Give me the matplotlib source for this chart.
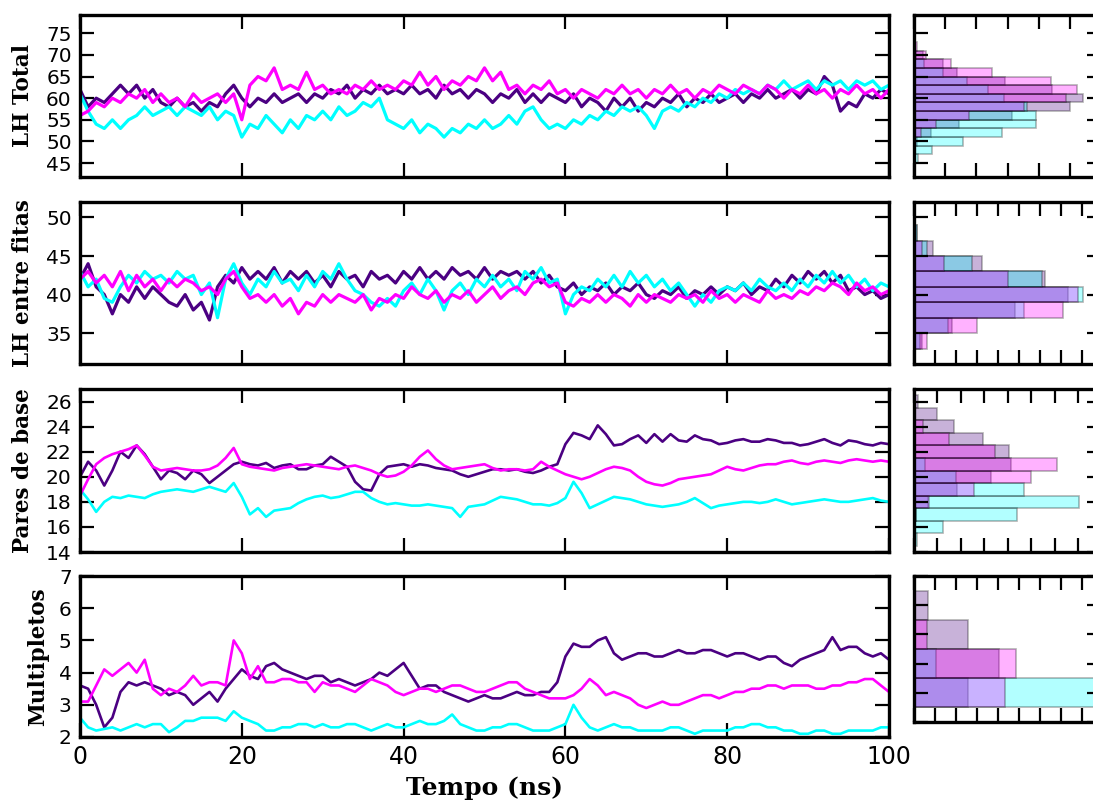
import numpy as np
import matplotlib
matplotlib.use("Agg")
import matplotlib.pyplot as plt

# ---------------- data ----------------
tempo = list(range(0, 101))  # ns

lh_total_indigo = [62,58,60,59,61,63,61,63,60,62,59,58,60,58,59,57,59,58,61,63,
                   60,58,60,59,61,59,60,61,59,61,60,62,61,63,60,62,61,63,61,62,
                   61,63,61,62,60,63,61,62,60,62,61,59,61,60,62,59,61,59,61,60,
                   59,61,58,60,59,57,60,58,60,57,59,58,60,59,61,58,60,59,61,59,
                   60,61,59,61,60,62,60,61,62,60,62,61,65,63,57,59,58,61,60,62,61]
lh_total_cyan = [61,57,54,53,55,53,55,56,58,56,57,58,56,58,57,56,58,55,57,56,
                 51,54,53,56,54,52,55,53,56,55,57,55,58,56,57,59,58,60,55,54,
                 53,55,52,54,53,51,53,52,54,53,55,53,54,56,54,57,58,55,53,54,
                 53,55,54,56,55,57,56,58,57,58,56,53,57,58,57,59,58,60,59,61,
                 60,62,61,62,61,63,62,64,62,63,64,62,64,63,64,62,64,63,64,62,63]
lh_total_magenta = [56,57,59,58,60,59,61,60,62,59,61,59,60,58,61,59,60,61,59,61,
                    55,63,65,64,67,62,63,62,66,62,63,61,62,61,63,62,64,62,63,62,
                    64,63,66,63,65,62,64,63,65,64,67,64,66,62,63,61,63,62,64,61,
                    62,60,62,61,60,62,61,63,61,62,60,62,61,63,61,62,60,62,61,63,
                    62,61,63,62,61,63,62,60,62,61,63,61,62,60,62,61,63,61,62,60,62]

lh_fitas_indigo = [42,44,41,40,37.5,40,39,41,39.5,41,40,39,38.5,40,38,39,36.7,41,42.5,41.5,
                   43.5,42,43,42,43.5,41.5,43,42,43,41.5,42.5,41,43,42,42.5,41,43,42,42.5,41.5,
                   43,42,43.5,42,43,42,43.5,42.5,43,42,43.5,42,43,42.5,43,42,43,41.5,42.5,41,
                   40.5,41.5,40,41,40.5,41.5,40,41,40.5,41.5,40,39.5,40.5,40,41,39.5,40.5,40,41,40,
                   41,40.5,41.5,40,41,40.5,42,41,42.5,41.5,43,42,43,41.5,42.5,40.5,41,40,40.5,39.5,40]
lh_fitas_cyan = [43,41,42,39.5,39,41,42.5,41.5,43,42,42.5,41.5,43,42,42.5,40,41.5,37,42,44,
                 41.5,40,42,41,43,41.5,42,40.5,42.5,41,43,42,44,42,40.5,40,39,38.5,39.5,38.5,
                 40.5,41.5,40,42,40.5,38,40.5,41.5,40,42,41,42.5,41,42,40.5,43,42,43.5,41.5,42,
                 37.5,40,41,40.5,42,41,42.5,41,43,41.5,42.5,41,42,40.5,41.5,40,38.5,40,39,40.5,
                 41,40.5,41.5,40.5,42,41,40.5,41.5,40.5,42,41,42.5,41.5,43,41.5,42.5,41,42,40.5,41.5,41]
lh_fitas_magenta = [42,43,41.5,42.5,41,43,40.5,42.5,41,42,40.5,42,41,42,41.5,40.5,41,40,42,43,
                    41,39.5,40,39,40,38.5,39.5,37.5,39,38.5,40,39,40,39.5,39,40,38,39.5,39,40,
                    39.5,41,40,39.5,40.5,39,40,39.5,40.5,39,40,41,39.5,40.5,41,40,41.5,42,41,41.5,
                    39,38.5,39.5,39,40,39,40,39.5,38.5,40,39,40,39.5,39,40,39.5,40,39,40.5,39.5,
                    40,39,40,39.5,39,40.5,39.5,40,39.5,40.5,40,41,40.5,41.5,41,40,41.5,40.5,41,40,40.5]

pares_indigo = [20.0,21.2,20.5,19.3,20.5,22.0,21.5,22.5,21.8,20.8,19.8,20.5,20.3,19.8,20.5,20.2,19.5,20.0,20.5,21.0,
                21.2,21.0,20.9,21.1,20.7,20.9,21.0,20.6,20.6,20.9,21.0,21.6,21.2,20.8,19.6,19.0,18.9,20.2,20.8,20.9,
                21.0,20.8,21.0,20.9,20.7,20.6,20.5,20.2,20.0,20.2,20.4,20.6,20.6,20.5,20.6,20.4,20.3,20.5,20.8,21.0,
                22.6,23.5,23.3,23.0,24.1,23.4,22.5,22.6,23.0,23.3,22.7,23.4,22.8,23.4,22.9,22.8,23.3,23.0,22.9,22.6,
                22.7,22.9,23.0,22.8,22.8,23.0,22.9,22.7,22.7,22.5,22.6,22.8,23.0,22.7,22.5,22.9,22.8,22.6,22.5,22.7,22.6]
pares_cyan = [19.0,18.2,17.2,18.0,18.4,18.3,18.5,18.4,18.3,18.6,18.8,18.9,19.0,18.9,18.8,19.0,19.2,19.0,18.8,19.5,
              18.4,17.0,17.5,16.8,17.3,17.4,17.5,17.9,18.2,18.4,18.5,18.3,18.4,18.6,18.8,18.8,18.3,18.0,17.8,17.9,
              17.8,17.7,17.7,17.8,17.7,17.6,17.5,16.8,17.6,17.7,17.8,18.1,18.4,18.3,18.2,18.0,17.8,17.8,17.7,17.9,
              18.3,19.6,18.7,17.5,17.8,18.1,18.4,18.3,18.2,18.0,17.8,17.7,17.6,17.7,17.8,18.0,18.3,17.9,17.5,17.7,
              17.8,17.9,18.0,18.0,17.9,18.0,18.2,18.0,17.8,17.9,18.0,18.1,18.2,18.1,18.0,18.0,18.1,18.2,18.3,18.1,18.0]
pares_magenta = [18.5,19.8,21.0,21.5,21.8,22.0,22.2,22.5,21.7,20.8,20.5,20.6,20.7,20.6,20.5,20.5,20.6,20.9,21.5,22.3,
                 21.0,20.8,20.7,20.6,20.5,20.7,20.8,20.9,21.0,20.9,20.8,20.7,20.6,20.8,20.9,20.7,20.5,20.2,20.0,20.1,
                 20.4,20.9,21.6,22.1,21.4,20.9,20.6,20.7,20.8,20.9,21.0,20.7,20.5,20.6,20.6,20.5,20.6,21.2,20.8,20.5,
                 20.2,20.0,19.8,20.0,20.3,20.6,20.8,20.7,20.5,20.0,19.6,19.4,19.3,19.5,19.8,19.9,20.0,20.1,20.2,20.5,
                 20.8,20.6,20.5,20.7,20.9,21.0,21.0,21.2,21.3,21.1,21.0,21.2,21.3,21.2,21.1,21.3,21.4,21.3,21.2,21.3,21.2]

multi_indigo = [3.6,3.5,3.0,2.3,2.6,3.4,3.7,3.6,3.7,3.6,3.5,3.3,3.4,3.3,3.0,3.2,3.4,3.1,3.5,3.8,
                4.1,3.9,3.8,4.2,4.3,4.1,4.0,3.9,3.8,3.9,3.9,3.7,3.8,3.7,3.6,3.7,3.8,4.0,3.9,4.1,
                4.3,3.9,3.5,3.6,3.6,3.4,3.3,3.2,3.1,3.2,3.3,3.2,3.2,3.3,3.4,3.3,3.3,3.4,3.4,3.7,
                4.5,4.9,4.8,4.8,5.0,5.1,4.6,4.4,4.5,4.6,4.6,4.5,4.5,4.6,4.7,4.6,4.6,4.7,4.7,4.6,
                4.5,4.6,4.6,4.5,4.4,4.5,4.5,4.3,4.2,4.4,4.5,4.6,4.7,5.1,4.7,4.8,4.8,4.6,4.5,4.6,4.4]
multi_cyan = [2.6,2.3,2.2,2.25,2.3,2.2,2.3,2.4,2.3,2.4,2.4,2.15,2.3,2.5,2.5,2.6,2.6,2.6,2.5,2.8,
              2.6,2.5,2.4,2.2,2.2,2.3,2.3,2.4,2.4,2.3,2.4,2.3,2.3,2.4,2.4,2.3,2.2,2.3,2.4,2.3,
              2.3,2.4,2.5,2.4,2.4,2.5,2.7,2.4,2.3,2.2,2.2,2.3,2.3,2.4,2.4,2.3,2.2,2.2,2.2,2.3,
              2.4,3.0,2.6,2.3,2.2,2.3,2.4,2.3,2.3,2.2,2.2,2.2,2.2,2.3,2.3,2.2,2.1,2.2,2.2,2.2,
              2.2,2.3,2.3,2.4,2.4,2.3,2.3,2.2,2.2,2.1,2.1,2.2,2.2,2.1,2.1,2.2,2.2,2.2,2.2,2.3,2.3]
multi_magenta = [3.1,3.1,3.6,4.1,3.9,4.1,4.3,4.0,4.4,3.5,3.3,3.5,3.4,3.6,3.9,3.6,3.7,3.7,3.6,5.0,
                 4.6,3.8,4.2,3.7,3.7,3.8,3.8,3.7,3.7,3.4,3.7,3.6,3.6,3.5,3.4,3.6,3.8,3.7,3.6,3.4,
                 3.3,3.4,3.5,3.5,3.4,3.5,3.6,3.6,3.5,3.4,3.4,3.5,3.6,3.7,3.7,3.5,3.4,3.3,3.2,3.2,
                 3.2,3.3,3.5,3.8,3.6,3.3,3.4,3.3,3.2,3.0,2.9,3.0,3.1,3.0,3.0,3.1,3.2,3.3,3.3,3.2,
                 3.3,3.4,3.4,3.5,3.5,3.6,3.6,3.5,3.6,3.6,3.6,3.5,3.5,3.6,3.6,3.7,3.7,3.8,3.8,3.6,3.4]

# histogram bins (centres) and counts (in tick units) per series
h1_bins = [46, 48, 50, 52, 54, 56, 58, 60, 62, 64, 66, 68, 70, 72]
h1_indigo = [0, 0, 0.10, 0.54, 1.44, 3.13, 5.00, 5.43, 4.44, 2.92, 1.37, 0.94, 0.30, 0.04]
h1_cyan = [0.14, 0.57, 1.56, 2.81, 3.93, 3.93, 3.61, 2.90, 2.38, 1.71, 0.94, 0.33, 0.05, 0]
h1_magenta = [0, 0, 0.03, 0.21, 0.70, 1.77, 3.53, 4.89, 5.23, 4.41, 2.51, 1.18, 0.37, 0.11]

h2_bins = [34, 36, 38, 40, 42, 44, 46, 48]
h2_indigo = [0.37, 1.79, 4.81, 7.32, 6.24, 3.22, 0.89, 0.15]
h2_cyan = [0.29, 1.63, 5.25, 8.02, 6.11, 2.75, 0.60, 0.15]
h2_magenta = [0.60, 2.98, 7.08, 7.79, 4.49, 1.44, 0.37, 0]

h3_bins = [15, 16, 17, 18, 19, 20, 21, 22, 23, 24, 25, 26]
h3_indigo = [0, 0, 0.10, 0.60, 1.84, 3.28, 4.11, 4.06, 2.92, 1.72, 0.96, 0.18]
h3_cyan = [0.11, 1.25, 4.37, 7.04, 4.70, 1.77, 0.47, 0, 0, 0, 0, 0]
h3_magenta = [0, 0, 0.10, 0.64, 2.57, 5.00, 6.10, 3.45, 1.50, 0.40, 0, 0]

h4_bins = [3, 4, 5, 6]
h4_indigo = [2.59, 4.06, 2.59, 0.65]
h4_cyan = [9.5, 1.05, 0, 0]
h4_magenta = [4.33, 4.86, 0.60, 0]

ylabels = ["LH Total", "LH entre fitas", "Pares de base", "Multipletos"]
colors = ["indigo", "cyan", "magenta"]

# ---------------- figure ----------------
W, H = 1093, 801
fig = plt.figure(figsize=(W / 100, H / 100), dpi=100)

def fx(px):
    return px / W

def fy(py):
    return 1 - py / H

rows = [(15, 177), (202, 364), (389, 552), (576, 737)]
hist_bottoms = [177, 364, 552, 722]
main_l, main_r = 80, 889
hist_l, hist_r = 914, 1101

series = [
    (lh_total_indigo, lh_total_cyan, lh_total_magenta),
    (lh_fitas_indigo, lh_fitas_cyan, lh_fitas_magenta),
    (pares_indigo, pares_cyan, pares_magenta),
    (multi_indigo, multi_cyan, multi_magenta),
]
hists = [
    (h1_bins, 2, (h1_indigo, h1_cyan, h1_magenta)),
    (h2_bins, 2, (h2_indigo, h2_cyan, h2_magenta)),
    (h3_bins, 1, (h3_indigo, h3_cyan, h3_magenta)),
    (h4_bins, 1, (h4_indigo, h4_cyan, h4_magenta)),
]
ylims = [(41.8, 79.2), (31.0, 52.0), (14, 27), (2, 7)]
hist_ylims = [(41.8, 79.2), (31.0, 52.0), (14, 27), (2.5, 7)]
yticks = [list(range(45, 80, 5)), list(range(35, 55, 5)), list(range(14, 28, 2)), list(range(2, 8))]
hist_xlims = [6.0, 8.9, 7.96, 8.9]
line_widths = [2.3, 2.3, 1.9, 1.9]
label_pads = [8.6, 8.6, 8.6, 7.0]

tick_kw = dict(direction="in", length=10, width=1.6, top=True, right=True)

for i in range(4):
    top, bot = rows[i]
    ax = fig.add_axes([fx(main_l), fy(bot), fx(main_r - main_l), (bot - top) / H])
    for vals, c in zip(series[i], colors):
        ax.plot(tempo, vals, color=c, lw=line_widths[i])
    ax.set_xlim(0, 100)
    ax.set_ylim(*ylims[i])
    ax.set_yticks(yticks[i])
    ax.set_xticks(range(0, 101, 20))
    ax.tick_params(axis="both", pad=6, **tick_kw)
    ax.tick_params(axis="y", labelsize=14.5)
    ax.tick_params(axis="x", labelsize=17)
    if i < 3:
        ax.set_xticklabels([])
    else:
        ax.set_xlabel("Tempo (ns)", fontfamily="DejaVu Serif", fontweight="bold",
                      fontsize=18, labelpad=5)
    ax.set_ylabel(ylabels[i], fontfamily="DejaVu Serif", fontweight="bold",
                  fontsize=15.5, labelpad=label_pads[i])
    for s in ax.spines.values():
        s.set_linewidth(2.4)

    hb = hist_bottoms[i]
    hax = fig.add_axes([fx(hist_l), fy(hb), fx(hist_r - hist_l), (hb - top) / H])
    bins, bw, counts = hists[i]
    for cnt, c in zip(counts, colors):
        hax.barh(bins, cnt, height=bw, color=c, alpha=0.3, edgecolor="black", linewidth=1.2)
    hax.set_ylim(*hist_ylims[i])
    hax.set_xlim(0, hist_xlims[i])
    hax.set_yticks(yticks[i])
    hax.set_xticks(range(0, int(hist_xlims[i]) + 1))
    hax.tick_params(axis="both", labelleft=False, labelbottom=False, **tick_kw)
    for s in hax.spines.values():
        s.set_linewidth(2.4)

fig.savefig("out.png", dpi=100)
